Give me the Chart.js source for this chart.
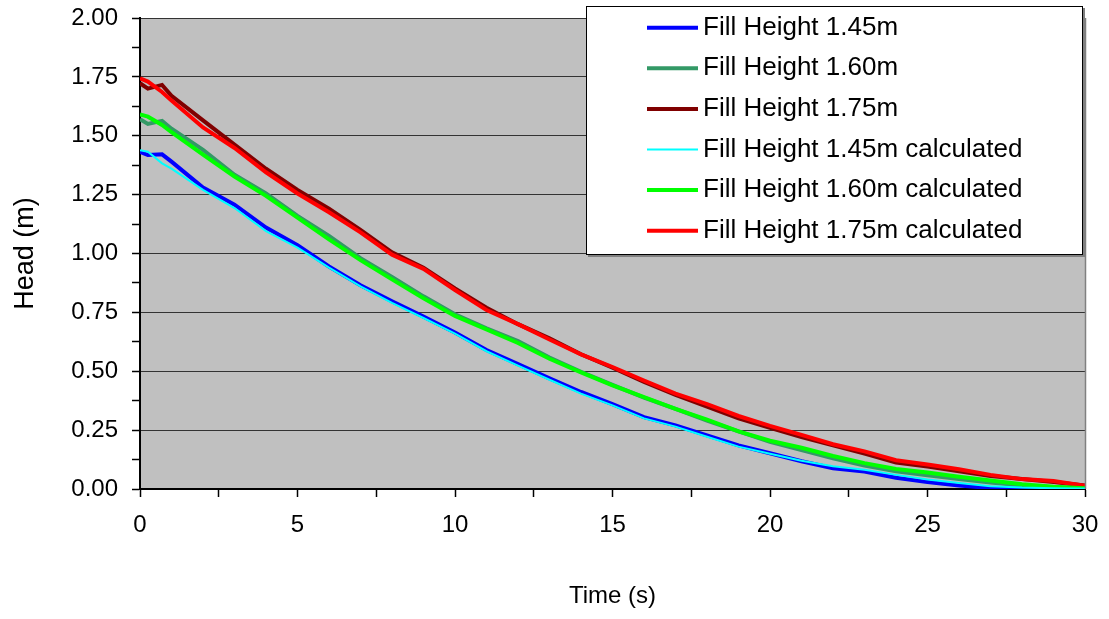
<!DOCTYPE html>
<html>
<head>
<meta charset="utf-8">
<title>Head vs Time</title>
<script src="https://cdn.jsdelivr.net/npm/chart.js@4.4.1/dist/chart.umd.min.js"></script>
<style>
    body { margin: 0; background: #fff; }
    #wrap { width: 1109px; height: 619px; }
</style>
</head>
<body>
<div id="wrap"><canvas id="headChart" width="1109" height="619"></canvas></div>
<script>
// Fill height drain test: head (m) against time (s)

const times = [0, 0.25, 0.7, 1, 2, 3, 4, 5, 6, 7, 8, 9, 10, 11, 12, 13, 14, 15,
    16, 17, 18, 19, 20, 21, 22, 23, 24, 25, 26, 27, 28, 29, 30];

const fill145 = [1.432, 1.418, 1.421, 1.39, 1.28, 1.207, 1.11, 1.035, 0.945, 0.865, 0.797,
    0.732, 0.665, 0.59, 0.53, 0.47, 0.412, 0.36, 0.305, 0.27, 0.228, 0.185, 0.152,
    0.118, 0.088, 0.074, 0.048, 0.03, 0.015, 0.004, 0, 0, 0];
const fill160 = [1.57, 1.55, 1.563, 1.53, 1.44, 1.334, 1.255, 1.16, 1.075, 0.98, 0.9,
    0.818, 0.742, 0.682, 0.628, 0.558, 0.498, 0.442, 0.388, 0.34, 0.29, 0.245, 0.2,
    0.165, 0.13, 0.1, 0.075, 0.058, 0.042, 0.028, 0.015, 0.007, 0.003];
const fill175 = [1.723, 1.70, 1.716, 1.67, 1.565, 1.462, 1.36, 1.27, 1.19, 1.10, 1.005,
    0.94, 0.852, 0.77, 0.70, 0.64, 0.572, 0.515, 0.455, 0.40, 0.35, 0.30, 0.26,
    0.22, 0.185, 0.15, 0.112, 0.095, 0.075, 0.055, 0.042, 0.03, 0.015];
const calc145 = [1.439, 1.432, 1.383, 1.36, 1.27, 1.193, 1.095, 1.025, 0.94, 0.86, 0.79,
    0.726, 0.66, 0.585, 0.524, 0.464, 0.405, 0.355, 0.3, 0.265, 0.222, 0.18, 0.15,
    0.12, 0.097, 0.082, 0.06, 0.04, 0.025, 0.012, 0.006, 0.003, 0.002];
const calc160 = [1.591, 1.581, 1.546, 1.515, 1.42, 1.327, 1.245, 1.152, 1.06, 0.972, 0.89,
    0.81, 0.735, 0.678, 0.62, 0.553, 0.495, 0.44, 0.39, 0.34, 0.295, 0.245, 0.205,
    0.175, 0.14, 0.11, 0.085, 0.07, 0.052, 0.036, 0.02, 0.01, 0.003];
const calc175 = [1.744, 1.73, 1.686, 1.65, 1.535, 1.448, 1.345, 1.255, 1.175, 1.09, 0.995,
    0.935, 0.845, 0.76, 0.70, 0.635, 0.572, 0.518, 0.46, 0.405, 0.36, 0.31, 0.268,
    0.23, 0.19, 0.16, 0.122, 0.104, 0.084, 0.06, 0.042, 0.034, 0.014];

const seriesLabels = [
    'Fill Height 1.45m',
    'Fill Height 1.60m',
    'Fill Height 1.75m',
    'Fill Height 1.45m calculated',
    'Fill Height 1.60m calculated',
    'Fill Height 1.75m calculated'
];
const seriesValues = [fill145, fill160, fill175, calc145, calc160, calc175];
const seriesColors = ['#0000FF', '#339966', '#800000', '#00FFFF', '#00FF00', '#FF0000'];
const seriesWidths = [4, 4, 4, 2, 4, 4];

const FONT = "'Liberation Sans', Arial, sans-serif";

function toPoints(values) {
    return times.map((t, i) => ({ x: t, y: values[i] }));
}

function isMultiple(v, step) {
    const r = v / step;
    return Math.abs(r - Math.round(r)) < 1e-6;
}

// Gray plot area and its right border
const plotArea = {
    id: 'plotArea',
    beforeDraw(chart) {
        const { ctx, chartArea: a } = chart;
        ctx.save();
        ctx.fillStyle = '#C0C0C0';
        ctx.fillRect(a.left, a.top, a.right - a.left, a.bottom - a.top);
        ctx.restore();
    },
    afterDatasetsDraw(chart) {
        const { ctx, chartArea: a } = chart;
        ctx.save();
        ctx.strokeStyle = '#808080';
        ctx.lineWidth = 1.5;
        ctx.beginPath();
        ctx.moveTo(a.right + 0.5, a.top);
        ctx.lineTo(a.right + 0.5, a.bottom);
        ctx.stroke();
        ctx.restore();
    }
};

// Excel-like boxed legend sitting over the top right of the plot
const boxLegend = {
    id: 'boxLegend',
    afterDraw(chart) {
        const ctx = chart.ctx;
        const box = { left: 586, top: 6, right: 1083, bottom: 255 };
        ctx.save();
        ctx.fillStyle = '#808080';
        ctx.fillRect(box.left + 2, box.top + 2, box.right - box.left, box.bottom - box.top);
        ctx.fillStyle = '#FFFFFF';
        ctx.fillRect(box.left, box.top, box.right - box.left, box.bottom - box.top);
        ctx.strokeStyle = '#000000';
        ctx.lineWidth = 1;
        ctx.strokeRect(box.left + 0.5, box.top + 0.5, box.right - box.left - 1, box.bottom - box.top - 1);

        ctx.font = '26px ' + FONT;
        ctx.textBaseline = 'alphabetic';
        ctx.textAlign = 'left';
        chart.data.datasets.forEach((ds, i) => {
            const y = 27.7 + i * 40.6;
            ctx.strokeStyle = ds.borderColor;
            ctx.lineWidth = ds.borderWidth;
            ctx.beginPath();
            ctx.moveTo(647, y);
            ctx.lineTo(698, y);
            ctx.stroke();
            ctx.fillStyle = '#000000';
            ctx.fillText(ds.label, 703, y + 7);
        });
        ctx.restore();
    }
};

const datasets = seriesLabels.map((label, i) => ({
    label: label,
    data: toPoints(seriesValues[i]),
    borderColor: seriesColors[i],
    backgroundColor: seriesColors[i],
    borderWidth: seriesWidths[i],
    pointRadius: 0,
    tension: 0,
    fill: false,
    order: i < 3 ? 1 : 0
}));

const ctx = document.getElementById('headChart').getContext('2d');
const headChart = new Chart(ctx, {
    type: 'line',
    data: { datasets: datasets },
    options: {
        responsive: false,
        animation: false,
        layout: { padding: { top: 18, right: 24, left: 0, bottom: 0 } },
        plugins: {
            legend: { display: false },
            tooltip: { enabled: false }
        },
        scales: {
            x: {
                type: 'linear',
                min: 0,
                max: 30,
                afterFit(scale) {
                    scale.height = 130;
                    scale.paddingLeft = 0;
                    scale.paddingRight = 0;
                },
                ticks: {
                    stepSize: 2.5,
                    autoSkip: false,
                    maxRotation: 0,
                    padding: 14,
                    color: '#000',
                    font: { family: FONT, size: 24 },
                    callback: (v) => isMultiple(v, 5) ? String(v) : ''
                },
                grid: {
                    drawOnChartArea: false,
                    tickLength: 8,
                    tickColor: '#000',
                    tickWidth: 1.5
                },
                border: { color: '#000', width: 2 },
                title: {
                    display: true,
                    text: 'Time (s)',
                    color: '#000',
                    font: { family: FONT, size: 24 },
                    padding: { top: 0, bottom: 8 }
                }
            },
            y: {
                min: 0,
                max: 2,
                afterFit(scale) {
                    scale.width = 140;
                    scale.paddingTop = 0;
                    scale.paddingBottom = 0;
                },
                ticks: {
                    stepSize: 0.125,
                    autoSkip: false,
                    padding: 14,
                    color: '#000',
                    font: { family: FONT, size: 24 },
                    callback: (v) => isMultiple(v, 0.25) ? v.toFixed(2) : ''
                },
                grid: {
                    color: (c) => isMultiple(c.tick.value, 0.25) ? '#333333' : 'rgba(0,0,0,0)',
                    lineWidth: 1,
                    tickLength: 8,
                    tickColor: '#000',
                    tickWidth: 1.5
                },
                border: { color: '#000', width: 2 },
                title: {
                    display: true,
                    text: 'Head (m)',
                    color: '#000',
                    font: { family: FONT, size: 27 },
                    padding: { top: 9, bottom: 0 }
                }
            }
        }
    },
    plugins: [plotArea, boxLegend]
});
</script>
</body>
</html>
